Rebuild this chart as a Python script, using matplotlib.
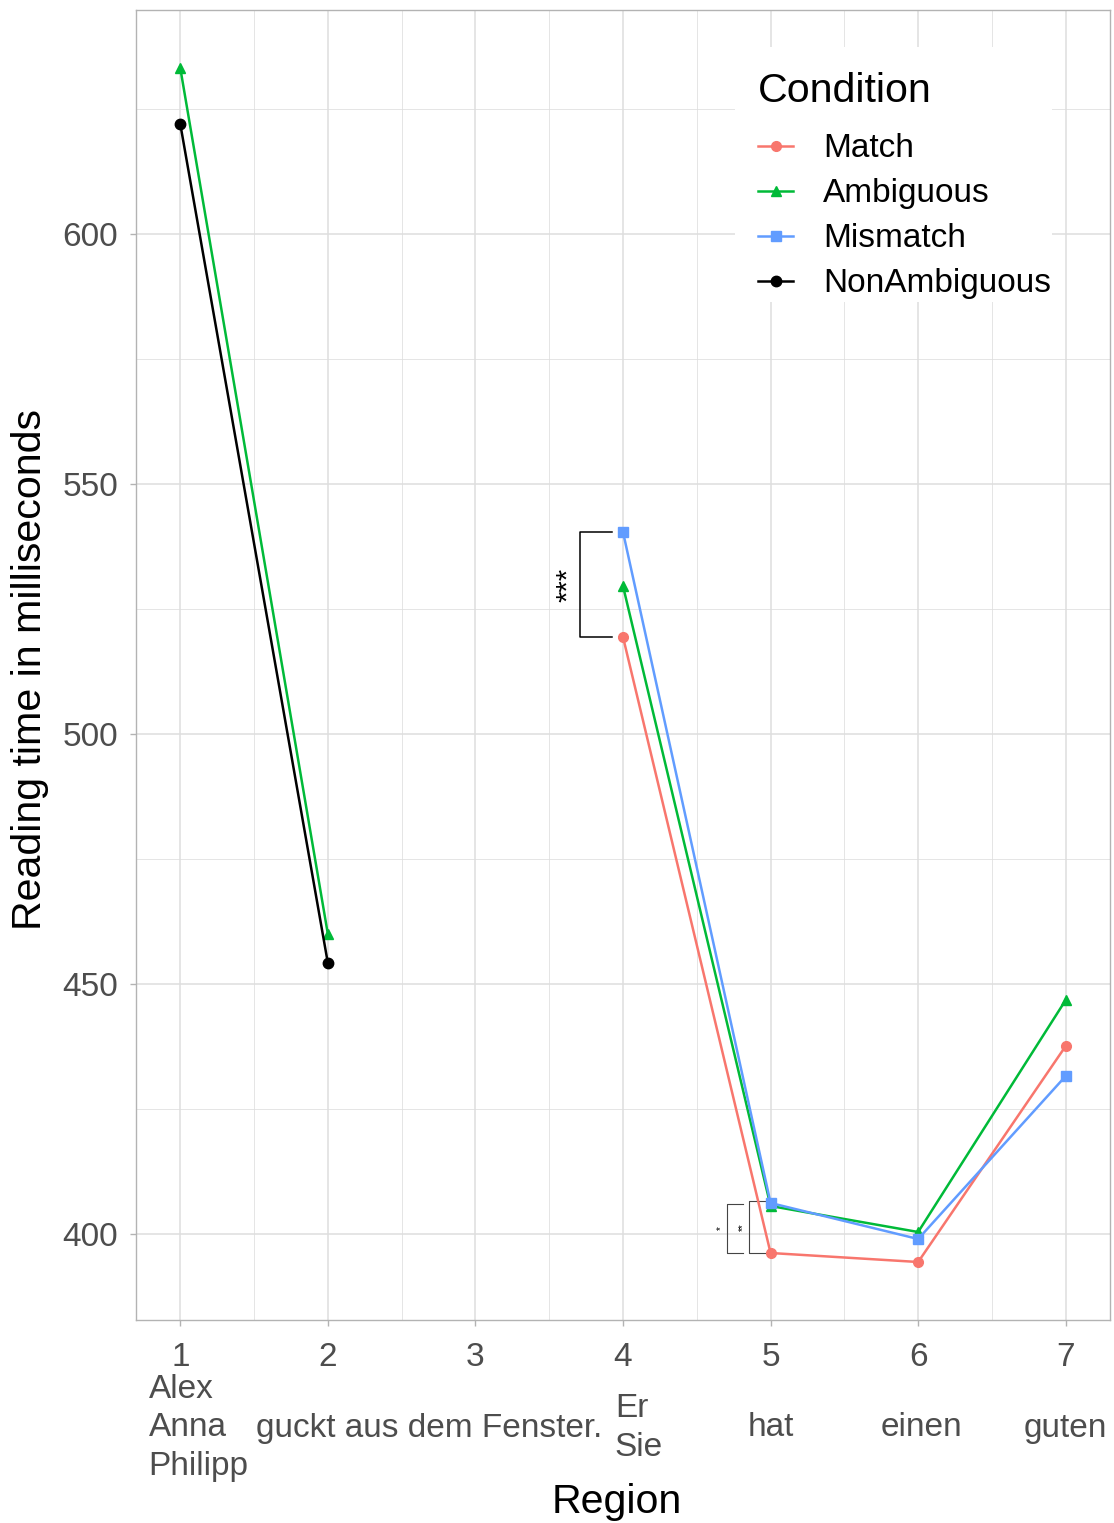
"""Reading times per region and condition, recreated with matplotlib."""
import matplotlib
matplotlib.use("Agg")
import matplotlib.pyplot as plt
import matplotlib.patches as mpatches
import matplotlib.transforms as mtransforms
import numpy as np

plt.rcParams["font.family"] = ["Liberation Sans", "DejaVu Sans"]

# data ---------------------------------------------------------------------
regions = [1, 2, 3, 4, 5, 6, 7]
region_words = ["Alex\nAnna\nPhilipp", "guckt aus dem Fenster.", "", "Er\nSie",
                "hat", "einen", "guten"]
word_x = [1.125, 2.683, 3.0, 4.108, 5.0, 6.02, 7.0]

conditions = ["Match", "Ambiguous", "Mismatch", "NonAmbiguous"]
colors = ["#F8766D", "#00BA38", "#619CFF", "black"]
markers = ["o", "^", "s", "o"]

match_x = [4, 5, 6, 7]
match_y = [519.4, 396.2, 394.4, 437.6]
ambig_x = [1, 2, 4, 5, 6, 7]
ambig_y = [633.2, 460.0, 529.6, 405.6, 400.4, 446.8]
mism_x = [4, 5, 6, 7]
mism_y = [540.4, 406.2, 399.0, 431.6]
nonamb_x = [1, 2]
nonamb_y = [622.0, 454.2]

# significance brackets: (x of vertical, x of arm end, y low, y high, label, label x)
brackets = [
    (3.706, 3.923, 519.4, 540.4, "***", 3.625),
    (4.708, 4.81, 396.2, 406.0, "*", 4.663),
    (4.857, 4.99, 396.2, 406.6, "**", 4.81),
]

# figure -------------------------------------------------------------------
W, H = 1114, 1523
fig = plt.figure(figsize=(W / 100, H / 100), dpi=100)
ax = fig.add_axes([136 / W, 1 - 1320 / H, (1110 - 136) / W, (1320 - 10) / H])

series = [(match_x, match_y), (ambig_x, ambig_y), (mism_x, mism_y), (nonamb_x, nonamb_y)]
handles = []
for (xs, ys), name, c, m in zip(series, conditions, colors, markers):
    xs = np.array(xs)
    ys = np.array(ys)
    # break the line where a region is missing
    segs = np.split(np.arange(len(xs)), np.where(np.diff(xs) > 1)[0] + 1)
    for s in segs:
        h, = ax.plot(xs[s], ys[s], color=c, lw=1.8, marker=m,
                     ms=7.5 if c == "black" else 7, zorder=3)
    handles.append(h)

for xv, xe, ylo, yhi, lab, lx in brackets:
    big = lab == "***"
    lc = "black" if big else "#444444"
    lw = 1.1 if big else 0.8
    ax.plot([xe, xv, xv, xe], [yhi, yhi, ylo, ylo], color=lc, lw=lw, zorder=2)
    ax.text(lx, (ylo + yhi) / 2, lab, rotation=90, ha="center", va="center",
            fontsize=21 if big else 7, color="black")

ax.set_xlim(0.7, 7.3)
ax.set_ylim(382.8, 644.8)
ax.set_xticks(regions)
ax.set_xticks(np.arange(1.5, 7, 1), minor=True)
ax.set_yticks([400, 450, 500, 550, 600])
ax.set_yticks([425, 475, 525, 575, 625], minor=True)
ax.grid(which="major", color="#DEDEDE", lw=1.1, zorder=0)
ax.grid(which="minor", color="#DEDEDE", lw=0.55, zorder=0)
ax.set_axisbelow(True)
for sp in ax.spines.values():
    sp.set_color("#B3B3B3")
    sp.set_linewidth(1.0)
ax.tick_params(which="major", length=4, width=1.0, color="#B3B3B3",
               labelsize=24, labelcolor="#4D4D4D")
ax.tick_params(axis="x", which="major", pad=12)
ax.tick_params(axis="y", which="major", pad=9)
ax.tick_params(which="minor", length=0)

trans = mtransforms.blended_transform_factory(ax.transData, fig.transFigure)
for wx, word in zip(word_x, region_words):
    if word:
        ax.text(wx, 1 - 1428 / H, word, transform=trans, ha="center", va="center",
                multialignment="left", fontsize=24, color="#4D4D4D",
                linespacing=1.33)

fig.text(617 / W, 1 - 1502 / H, "Region", ha="center", va="center", fontsize=29.6)
fig.text(30 / W, 1 - 670 / H, "Reading time in milliseconds", rotation=90,
         ha="center", va="center", fontsize=29.6)

# white legend background (ggplot style, tight on the right)
bg = mpatches.Rectangle((735 / W, 1 - 302 / H), (1052 - 735) / W, (302 - 47) / H,
                        transform=fig.transFigure, facecolor="white",
                        edgecolor="none", zorder=1)
ax.add_patch(bg)

leg = ax.legend(handles, conditions, title="Condition", loc="upper right",
                bbox_to_anchor=(1083 / W, 1 - 40 / H), bbox_transform=fig.transFigure,
                fontsize=24, title_fontsize=29.6, frameon=False,
                handlelength=1.05, handletextpad=0.9, labelspacing=0.42,
                borderpad=0.45, alignment="left")
leg._legend_box.sep = 17

fig.savefig("out.png", dpi=100)
